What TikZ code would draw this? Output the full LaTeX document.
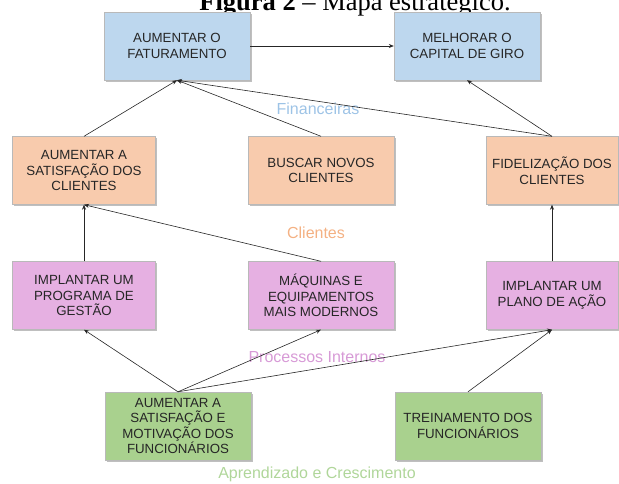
\documentclass[tikz,border=0pt]{standalone}
\usepackage{fontspec}
\setmainfont{Liberation Sans}
\newfontfamily\titlefont{Liberation Serif}
\usepackage{xcolor}
\usepackage{tikz}
\usetikzlibrary{arrows.meta,shadows}

\definecolor{azul}{HTML}{BDD7EE}
\definecolor{laranja}{HTML}{F8CBAD}
\definecolor{rosa}{HTML}{E6B0E2}
\definecolor{verde}{HTML}{A9D18E}
\definecolor{azulrot}{HTML}{9DC3E6}
\definecolor{laranjarot}{HTML}{F4B183}
\definecolor{rosarot}{HTML}{D79AD6}
\definecolor{verderot}{HTML}{B0D69A}

\begin{document}
\begin{tikzpicture}[x=1pt, y=-1pt,
    caixa/.style={draw=gray!55, line width=0.4pt, minimum width=146pt, minimum height=68pt,
        inner sep=2pt, align=center, text=black!85, font=\fontsize{13.3}{15.5}\selectfont,
        drop shadow={shadow xshift=1.5pt, shadow yshift=-1.5pt, fill=black, opacity=0.25}},
    rotulo/.style={font=\fontsize{16}{18}\selectfont},
    seta/.style={draw=black!85, line width=0.6pt, -{Stealth[length=5pt,width=4pt]}}]
    \useasboundingbox (0,0) rectangle (619,483);

    % Title
    \node[anchor=base, font=\titlefont\fontsize{26.5}{30}\selectfont] (titulo) at (355,10) {\textbf{Figura 2} – Mapa estratégico.};

    % Financeiras
    \node[caixa, fill=azul] (fat) at (177,46) {AUMENTAR O\\FATURAMENTO};
    \node[caixa, fill=azul] (giro) at (467,46) {MELHORAR O\\CAPITAL DE GIRO};
    \node[rotulo, text=azulrot] (financeiras) at (318,109) {Financeiras};

    % Clientes
    \node[caixa, fill=laranja, minimum width=143pt] (satis) at (84,170.5) {AUMENTAR A\\SATISFAÇÃO DOS\\CLIENTES};
    \node[caixa, fill=laranja] (buscar) at (321,170.5) {BUSCAR NOVOS\\CLIENTES};
    \node[caixa, fill=laranja, minimum width=132pt] (fidel) at (552,170.5) {FIDELIZAÇÃO DOS\\CLIENTES};
    \node[rotulo, text=laranjarot] (clientes) at (316,233) {Clientes};

    % Processos Internos
    \node[caixa, fill=rosa, minimum width=143pt] (gestao) at (84,295.5) {IMPLANTAR UM\\PROGRAMA DE\\GESTÃO};
    \node[caixa, fill=rosa] (maquinas) at (321,295.5) {MÁQUINAS E\\EQUIPAMENTOS\\MAIS MODERNOS};
    \node[caixa, fill=rosa, minimum width=132pt] (plano) at (552,295.5) {IMPLANTAR UM\\PLANO DE AÇÃO};
    \node[rotulo, text=rosarot] (processos) at (317,357) {Processos Internos};

    % Aprendizado e Crescimento
    \node[caixa, fill=verde] (motiv) at (178,426) {AUMENTAR A\\SATISFAÇÃO E\\MOTIVAÇÃO DOS\\FUNCIONÁRIOS};
    \node[caixa, fill=verde] (trein) at (468,426) {TREINAMENTO DOS\\FUNCIONÁRIOS};
    \node[rotulo, text=verderot] (aprendizado) at (317,474) {Aprendizado e Crescimento};

    % Arrows
    \draw[seta] (fat) -- (giro);
    \draw[seta] (satis.north) -- (fat.south);
    \draw[seta] (buscar.north) -- (fat.south);
    \draw[seta] (fidel.north) -- (fat.south);
    \draw[seta] (fidel.north) -- (giro.south);
    \draw[seta] (gestao) -- (satis);
    \draw[seta] (maquinas.north) -- (satis.south);
    \draw[seta] (plano) -- (fidel);
    \draw[seta] (motiv.north) -- (gestao.south);
    \draw[seta] (motiv.north) -- (maquinas.south);
    \draw[seta] (motiv.north) -- (plano.south);
    \draw[seta] (trein.north) -- (plano.south);
\end{tikzpicture}
\end{document}
